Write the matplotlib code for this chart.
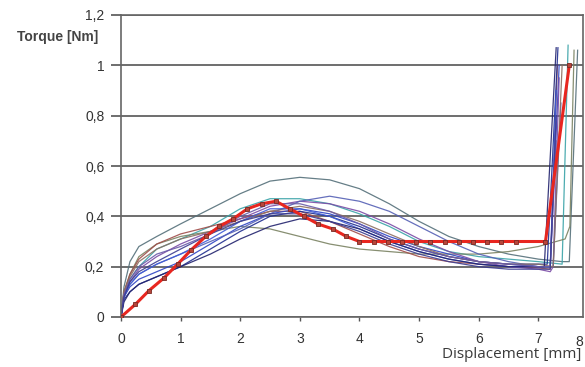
import matplotlib
matplotlib.use("Agg")
import matplotlib.pyplot as plt

# common x grid for the measured curves (mm)
thin_x = [0, 0.05, 0.15, 0.3, 0.6, 1, 1.5, 2, 2.5, 3, 3.5, 4, 4.5, 5, 5.5, 6, 6.5, 7]

# measured curves: colour, torque on thin_x, then the end (jump) part
curve_colors = ["#55707a", "#3aa3a8", "#7a8262", "#a04d4a", "#1f2d8f", "#2f45c4", "#7a4ca6",
                "#5560b5", "#8c6f62", "#3e5bd6", "#22236e", "#6a5aa8", "#3c3c90"]
curve_y = [
    [0, .12, .22, .28, .32, .37, .43, .49, .54, .555, .545, .51, .45, .38, .32, .28, .25, .23],
    [0, .08, .15, .20, .27, .31, .36, .43, .47, .47, .45, .41, .36, .30, .26, .24, .23, .22],
    [0, .10, .17, .24, .29, .32, .34, .36, .35, .32, .29, .27, .26, .25, .25, .25, .26, .28],
    [0, .10, .17, .23, .29, .33, .36, .39, .42, .42, .38, .33, .28, .24, .22, .21, .20, .195],
    [0, .07, .10, .13, .16, .20, .27, .34, .40, .42, .40, .36, .31, .27, .24, .22, .21, .21],
    [0, .08, .12, .15, .18, .22, .29, .36, .41, .43, .41, .37, .32, .28, .25, .22, .21, .20],
    [0, .09, .14, .19, .24, .29, .34, .39, .44, .46, .45, .42, .37, .31, .26, .22, .20, .19],
    [0, .08, .13, .17, .21, .25, .30, .35, .41, .46, .48, .46, .42, .36, .30, .25, .22, .20],
    [0, .10, .16, .22, .27, .31, .34, .38, .42, .44, .42, .38, .33, .28, .24, .22, .21, .21],
    [0, .08, .13, .17, .21, .25, .31, .38, .43, .43, .40, .35, .30, .26, .23, .21, .20, .20],
    [0, .06, .10, .13, .16, .20, .25, .31, .36, .39, .38, .35, .30, .26, .23, .21, .20, .20],
    [0, .09, .15, .20, .25, .28, .33, .40, .45, .45, .42, .37, .31, .27, .24, .22, .21, .20],
    [0, .08, .14, .18, .22, .27, .33, .38, .41, .41, .38, .34, .29, .25, .22, .20, .19, .19],
]
tail_x = [
    [7.4, 7.52, 7.66], [7.4, 7.5], [7.3, 7.45, 7.53, 7.6], [7.2, 7.32], [7.15, 7.33],
    [7.2, 7.35], [7.2, 7.25, 7.35], [7.25, 7.38], [7.25, 7.4], [7.2, 7.3],
    [7.1, 7.3], [7.2, 7.3], [7.2, 7.3],
]
tail_y = [
    [.22, .22, 1.06], [.21, 1.08], [.30, .31, .36, 1.06], [.19, 1.0], [.21, 1.07],
    [.20, 1.0], [.18, .20, .95], [.20, .85], [.20, 1.0], [.20, .90],
    [.20, 1.07], [.20, .70], [.19, .80],
]

# averaged/model curve (red with markers)
red_x = [0, 0.24, 0.47, 0.72, 0.95, 1.17, 1.42, 1.65, 1.88, 2.12, 2.36, 2.6, 2.83, 3.07, 3.3,
         3.55, 3.78, 4.0, 4.24, 4.48, 4.72, 4.95, 5.19, 5.43, 5.67, 5.9, 6.14, 6.38, 6.62, 7.12, 7.52]
red_y = [0, 0.05, 0.105, 0.155, 0.21, 0.265, 0.32, 0.36, 0.39, 0.43, 0.45, 0.46, 0.43, 0.40, 0.37,
         0.35, 0.32, 0.30, 0.30, 0.30, 0.30, 0.30, 0.30, 0.30, 0.30, 0.30, 0.30, 0.30, 0.30, 0.30, 1.0]

y_ticks = [0, 0.2, 0.4, 0.6, 0.8, 1, 1.2]
y_labels = ["0", "0,2", "0,4", "0,6", "0,8", "1", "1,2"]
x_ticks = [0, 1, 2, 3, 4, 5, 6, 7]

fig = plt.figure(figsize=(5.85, 3.67), dpi=100)
ax = fig.add_axes([121 / 585, 1 - 317 / 367, (583 - 121) / 585, (317 - 15) / 367])

for c, ys, tx, ty in zip(curve_colors, curve_y, tail_x, tail_y):
    ax.plot(thin_x + tx, ys + ty, color=c, lw=0.9, alpha=0.9, zorder=2)

ax.plot(red_x, red_y, color="#e8261f", lw=2.2, marker="s", markersize=3.5,
        markerfacecolor="#b8453a", markeredgecolor="#7a2a24", markeredgewidth=0.6, zorder=3)

ax.set_xlim(0, 7.75)
ax.set_ylim(0, 1.2)
ax.set_yticks(y_ticks)
ax.set_yticklabels(y_labels)
ax.set_xticks(x_ticks)
ax.set_xticklabels([str(t) for t in x_ticks])
ax.grid(axis="y", color="#555555", lw=1.2)
ax.set_axisbelow(True)
for s in ax.spines.values():
    s.set_color("#666666")
    s.set_linewidth(1.2)
ax.tick_params(axis="y", length=7, width=1.2, color="#555555", pad=5,
               labelsize=10, labelcolor="#333333")
ax.tick_params(axis="x", length=3, width=1.0, color="#555555", pad=8,
               labelsize=10, labelcolor="#333333")
for lbl in ax.get_xticklabels() + ax.get_yticklabels():
    lbl.set_family("Liberation Sans")

# the "8" label sits right at the image edge
ax.text(7.68, -0.07, "8", ha="center", va="top", fontsize=10, color="#333333",
        family="Liberation Sans", clip_on=False)

fig.text(58 / 585, 1 - 37 / 367, "Torque [Nm]", ha="center", va="center", fontsize=10,
         fontweight="bold", color="#444444", family="Liberation Sans")
fig.text(512 / 585, 1 - 355 / 367, "Displacement [mm]", ha="center", va="center",
         fontsize=11, color="#3a3a3a", family="Open Sans")

fig.savefig("out.png", dpi=100)
